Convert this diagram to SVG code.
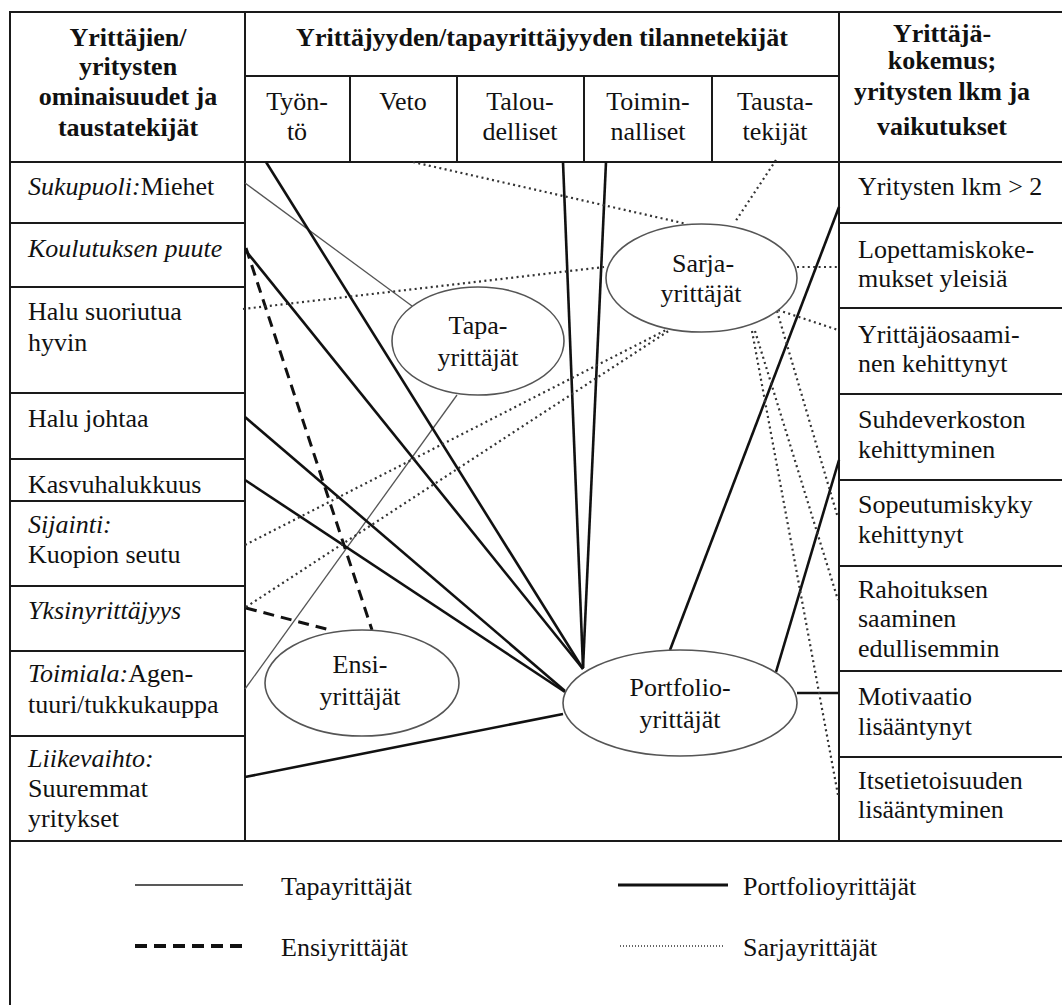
<svg xmlns="http://www.w3.org/2000/svg" width="1062" height="1005" viewBox="0 0 1062 1005">
  <style>
    text { font-family: "Liberation Serif", "Times New Roman", serif; font-size: 26px; fill: #111; }
    .b { font-weight: bold; }
    .i { font-style: italic; }
    .c { text-anchor: middle; }
    .grid { stroke: #1a1a1a; stroke-width: 2; fill: none; }
    .ell { fill: #fff; stroke: #555; stroke-width: 1.6; }
    .thin { stroke: #555; stroke-width: 1.3; fill: none; }
    .thick { stroke: #111; stroke-width: 2.6; fill: none; }
    .dash { stroke: #111; stroke-width: 3; stroke-dasharray: 11 7; fill: none; }
    .dot { stroke: #333; stroke-width: 2.2; stroke-dasharray: 2 3.4; fill: none; }
  </style>

  <rect width="1062" height="1005" fill="#fff"/>

  <!-- table frame and rulings -->
  <g id="table" class="grid">
    <rect x="10" y="12" width="1062" height="1000"/>
    <line x1="245" y1="76" x2="839" y2="76"/>
    <line x1="10" y1="162" x2="1072" y2="162"/>
    <line x1="10" y1="841" x2="1072" y2="841"/>
    <line x1="245" y1="12" x2="245" y2="841"/>
    <line x1="839" y1="12" x2="839" y2="841"/>
    <line x1="350" y1="76" x2="350" y2="162"/>
    <line x1="457" y1="76" x2="457" y2="162"/>
    <line x1="584" y1="76" x2="584" y2="162"/>
    <line x1="712" y1="76" x2="712" y2="162"/>
    <!-- left column rows -->
    <line x1="10" y1="223" x2="245" y2="223"/>
    <line x1="10" y1="287" x2="245" y2="287"/>
    <line x1="10" y1="393" x2="245" y2="393"/>
    <line x1="10" y1="459" x2="245" y2="459"/>
    <line x1="10" y1="501" x2="245" y2="501"/>
    <line x1="10" y1="586" x2="245" y2="586"/>
    <line x1="10" y1="651" x2="245" y2="651"/>
    <line x1="10" y1="736" x2="245" y2="736"/>
    <!-- right column rows -->
    <line x1="839" y1="223" x2="1072" y2="223"/>
    <line x1="839" y1="308" x2="1072" y2="308"/>
    <line x1="839" y1="394" x2="1072" y2="394"/>
    <line x1="839" y1="480" x2="1072" y2="480"/>
    <line x1="839" y1="566" x2="1072" y2="566"/>
    <line x1="839" y1="671" x2="1072" y2="671"/>
    <line x1="839" y1="757" x2="1072" y2="757"/>
  </g>

  <!-- column headers -->
  <g id="head-left">
    <text class="b c" x="128" y="46">Yrittäjien/</text>
    <text class="b c" x="128" y="75">yritysten</text>
    <text class="b c" x="128" y="105">ominaisuudet ja</text>
    <text class="b c" x="128" y="136">taustatekijät</text>
  </g>
  <g id="head-mid">
    <text class="b c" x="542" y="46">Yrittäjyyden/tapayrittäjyyden tilannetekijät</text>
  </g>
  <g id="head-right">
    <text class="b c" x="942" y="42">Yrittäjä-</text>
    <text class="b c" x="942" y="69">kokemus;</text>
    <text class="b c" x="942" y="100">yritysten lkm ja</text>
    <text class="b c" x="942" y="135">vaikutukset</text>
  </g>
  <g id="sub-tyonto"><text class="c" x="297" y="110">Työn-</text><text class="c" x="297" y="140">tö</text></g>
  <g id="sub-veto"><text class="c" x="403" y="110">Veto</text></g>
  <g id="sub-taloudelliset"><text class="c" x="520" y="110">Talou-</text><text class="c" x="520" y="140">delliset</text></g>
  <g id="sub-toiminnalliset"><text class="c" x="648" y="110">Toimin-</text><text class="c" x="648" y="140">nalliset</text></g>
  <g id="sub-taustatekijat"><text class="c" x="775" y="110">Tausta-</text><text class="c" x="775" y="140">tekijät</text></g>

  <!-- left column: characteristics -->
  <g id="l-sukupuoli"><text x="28" y="195"><tspan class="i">Sukupuoli:</tspan>Miehet</text></g>
  <g id="l-koulutus"><text class="i" x="28" y="257">Koulutuksen puute</text></g>
  <g id="l-suoriutua"><text x="28" y="320">Halu suoriutua</text><text x="28" y="351">hyvin</text></g>
  <g id="l-johtaa"><text x="28" y="427">Halu johtaa</text></g>
  <g id="l-kasvu"><text x="28" y="493">Kasvuhalukkuus</text></g>
  <g id="l-sijainti"><text class="i" x="28" y="533">Sijainti:</text><text x="28" y="563">Kuopion seutu</text></g>
  <g id="l-yksin"><text class="i" x="28" y="619">Yksinyrittäjyys</text></g>
  <g id="l-toimiala"><text x="28" y="682"><tspan class="i">Toimiala:</tspan>Agen-</text><text x="28" y="713">tuuri/tukkukauppa</text></g>
  <g id="l-liikevaihto"><text class="i" x="28" y="767">Liikevaihto:</text><text x="28" y="797">Suuremmat</text><text x="28" y="827">yritykset</text></g>

  <!-- right column: experience and effects -->
  <g id="r-lkm"><text x="858" y="195">Yritysten lkm &gt; 2</text></g>
  <g id="r-lopettamis"><text x="858" y="258">Lopettamiskoke-</text><text x="858" y="287">mukset yleisiä</text></g>
  <g id="r-osaaminen"><text x="858" y="343">Yrittäjäosaami-</text><text x="858" y="372">nen kehittynyt</text></g>
  <g id="r-suhde"><text x="858" y="428">Suhdeverkoston</text><text x="858" y="458">kehittyminen</text></g>
  <g id="r-sopeutumis"><text x="858" y="513">Sopeutumiskyky</text><text x="858" y="543">kehittynyt</text></g>
  <g id="r-rahoitus"><text x="858" y="598">Rahoituksen</text><text x="858" y="627">saaminen</text><text x="858" y="657">edullisemmin</text></g>
  <g id="r-motivaatio"><text x="858" y="705">Motivaatio</text><text x="858" y="735">lisääntynyt</text></g>
  <g id="r-itsetieto"><text x="858" y="789">Itsetietoisuuden</text><text x="858" y="818">lisääntyminen</text></g>

  <!-- connectors -->
  <g id="connectors">
    <!-- Tapayrittäjät (thin) -->
    <line class="thin" x1="245" y1="183" x2="412" y2="306"/>
    <line class="thin" x1="245" y1="689" x2="457" y2="395"/>
    <!-- Ensiyrittäjät (dashed) -->
    <line class="dash" x1="246" y1="248" x2="372" y2="630"/>
    <line class="dash" x1="246" y1="608" x2="330" y2="630"/>
    <!-- Portfolioyrittäjät (thick) -->
    <line class="thick" x1="266" y1="162" x2="583" y2="669"/>
    <line class="thick" x1="246" y1="251" x2="583" y2="669"/>
    <line class="thick" x1="245" y1="417" x2="565" y2="691"/>
    <line class="thick" x1="245" y1="480" x2="565" y2="692"/>
    <line class="thick" x1="245" y1="777" x2="563" y2="714"/>
    <line class="thick" x1="563" y1="162" x2="583" y2="668"/>
    <line class="thick" x1="606" y1="162" x2="583" y2="668"/>
    <line class="thick" x1="839" y1="207" x2="670" y2="650"/>
    <line class="thick" x1="839" y1="460" x2="776" y2="672"/>
    <line class="thick" x1="797" y1="693" x2="839" y2="693"/>
    <!-- Sarjayrittäjät (dotted) -->
    <line class="dot" x1="413" y1="162" x2="687" y2="224"/>
    <line class="dot" x1="776" y1="160" x2="735" y2="222"/>
    <line class="dot" x1="243" y1="309" x2="604" y2="267"/>
    <line class="dot" x1="245" y1="545" x2="666" y2="330"/>
    <line class="dot" x1="246" y1="607" x2="670" y2="330"/>
    <line class="dot" x1="797" y1="267" x2="839" y2="267"/>
    <line class="dot" x1="778" y1="310" x2="838" y2="330"/>
    <line class="dot" x1="777" y1="311" x2="838" y2="518"/>
    <line class="dot" x1="755" y1="331" x2="838" y2="600"/>
    <line class="dot" x1="752" y1="331" x2="838" y2="795"/>
  </g>

  <!-- entrepreneur type nodes -->
  <g id="n-tapa">
    <ellipse class="ell" cx="478" cy="341" rx="86" ry="54"/>
    <text class="c" x="478" y="334">Tapa-</text>
    <text class="c" x="478" y="366">yrittäjät</text>
  </g>
  <g id="n-sarja">
    <ellipse class="ell" cx="701.5" cy="278" rx="95.5" ry="54"/>
    <text class="c" x="703" y="272">Sarja-</text>
    <text class="c" x="701" y="302">yrittäjät</text>
  </g>
  <g id="n-ensi">
    <ellipse class="ell" cx="362" cy="683" rx="97" ry="53"/>
    <text class="c" x="360" y="673">Ensi-</text>
    <text class="c" x="360" y="705">yrittäjät</text>
  </g>
  <g id="n-portfolio">
    <ellipse class="ell" cx="680" cy="703" rx="117" ry="53"/>
    <text class="c" x="680" y="696">Portfolio-</text>
    <text class="c" x="680" y="728">yrittäjät</text>
  </g>

  <!-- legend -->
  <g id="legend">
    <line x1="135" y1="885" x2="243" y2="885" stroke="#222" stroke-width="1.6"/>
    <text x="281" y="895">Tapayrittäjät</text>
    <line x1="618" y1="885" x2="728" y2="885" stroke="#111" stroke-width="3"/>
    <text x="743" y="895">Portfolioyrittäjät</text>
    <line x1="135" y1="946" x2="245" y2="946" stroke="#111" stroke-width="4" stroke-dasharray="12 7"/>
    <text x="281" y="956">Ensiyrittäjät</text>
    <line x1="620" y1="946" x2="725" y2="946" stroke="#333" stroke-width="1.6" stroke-dasharray="1 2"/>
    <text x="743" y="956">Sarjayrittäjät</text>
  </g>
</svg>
